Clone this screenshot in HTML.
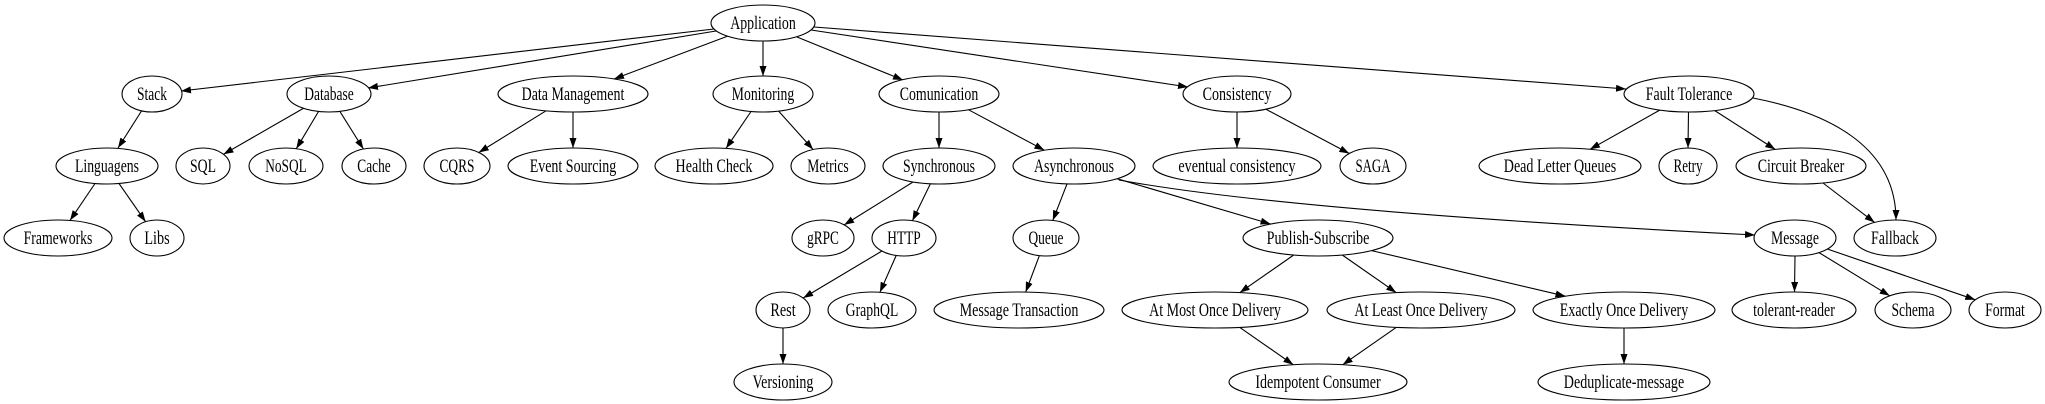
<!DOCTYPE html>
<html><head><meta charset="utf-8"><style>
html,body{margin:0;padding:0;background:#fff}
svg{display:block}
text{font-family:"Liberation Serif","Times New Roman",serif;font-size:18.5px;fill:#000;text-anchor:middle}
ellipse{fill:#fff;stroke:#000;stroke-width:1.1}
line,path.e{stroke:#000;stroke-width:1.1;fill:none}
</style></head><body>
<svg width="2045" height="404" viewBox="0 0 2045 404" xmlns="http://www.w3.org/2000/svg">
<defs><marker id="a" markerUnits="userSpaceOnUse" markerWidth="11" markerHeight="8" refX="10" refY="3.5" orient="auto"><path d="M0,0 L10,3.5 L0,7 z" fill="#000"/></marker></defs>
<g marker-end="url(#a)">
<line x1="714" y1="29" x2="181" y2="91"/>
<line x1="716" y1="31" x2="368" y2="88"/>
<line x1="728" y1="36" x2="614" y2="79"/>
<line x1="763" y1="41" x2="763" y2="76"/>
<line x1="797" y1="37" x2="903" y2="80"/>
<line x1="811" y1="30" x2="1188" y2="87"/>
<line x1="814" y1="27" x2="1626" y2="89"/>
<line x1="141.5" y1="111" x2="118" y2="148"/>
<line x1="95" y1="183.5" x2="70" y2="220.4"/>
<line x1="119" y1="183.5" x2="145.6" y2="221.7"/>
<line x1="304" y1="108" x2="223.5" y2="154.3"/>
<line x1="318.6" y1="111.4" x2="296.3" y2="148.7"/>
<line x1="339.9" y1="111.4" x2="363.4" y2="149"/>
<line x1="546" y1="110.8" x2="478.8" y2="152.5"/>
<line x1="573" y1="112" x2="573" y2="148"/>
<line x1="751" y1="111.5" x2="726" y2="148.4"/>
<line x1="778.5" y1="111" x2="813.1" y2="149.5"/>
<line x1="939" y1="112" x2="939" y2="148"/>
<line x1="968.4" y1="109.7" x2="1044.4" y2="150.2"/>
<line x1="1237" y1="112" x2="1237" y2="148"/>
<line x1="1265.8" y1="109.2" x2="1349.3" y2="153.5"/>
<line x1="1660" y1="110" x2="1590" y2="149.3"/>
<line x1="1688.5" y1="112" x2="1688" y2="148"/>
<line x1="1714.8" y1="110.6" x2="1775.2" y2="149.4"/>
<path class="e" d="M1753,98 C1835,114 1896,150 1896,220"/>
<line x1="1823" y1="183" x2="1874.6" y2="222.4"/>
<line x1="913" y1="182" x2="844.2" y2="224.9"/>
<line x1="930.4" y1="183.8" x2="912.4" y2="220.7"/>
<line x1="1067" y1="183.9" x2="1052.8" y2="220.4"/>
<line x1="1117" y1="178.7" x2="1270.6" y2="224"/>
<path class="e" d="M1119,180 C1250,204 1500,222 1755,235"/>
<line x1="882" y1="251" x2="803.2" y2="298"/>
<line x1="896.2" y1="255.5" x2="879.9" y2="292.3"/>
<line x1="1039.4" y1="255.6" x2="1025.7" y2="292"/>
<line x1="1293.7" y1="255" x2="1239.8" y2="292.6"/>
<line x1="1342.3" y1="255" x2="1396.2" y2="292.6"/>
<line x1="1371.6" y1="250.6" x2="1565.5" y2="296.2"/>
<line x1="1795" y1="256" x2="1794.5" y2="292"/>
<line x1="1819" y1="252.6" x2="1889.7" y2="295.8"/>
<line x1="1827.3" y1="249" x2="1975.3" y2="299.8"/>
<line x1="783" y1="328" x2="783" y2="364"/>
<line x1="1239.8" y1="327.4" x2="1293.3" y2="364.7"/>
<line x1="1396.2" y1="327.4" x2="1342.7" y2="364.7"/>
<line x1="1624" y1="328" x2="1624" y2="364"/>
</g>
<g>
<ellipse cx="763" cy="23" rx="52" ry="18"/><text x="763" y="29" textLength="65.6" lengthAdjust="spacingAndGlyphs">Application</text>
<ellipse cx="152" cy="94" rx="30" ry="18"/><text x="152" y="100" textLength="30" lengthAdjust="spacingAndGlyphs">Stack</text>
<ellipse cx="329" cy="94" rx="42" ry="18"/><text x="329" y="100" textLength="49.5" lengthAdjust="spacingAndGlyphs">Database</text>
<ellipse cx="573" cy="94" rx="75" ry="18"/><text x="573" y="100" textLength="102.7" lengthAdjust="spacingAndGlyphs">Data Management</text>
<ellipse cx="763" cy="94" rx="50" ry="18"/><text x="763" y="100" textLength="62.4" lengthAdjust="spacingAndGlyphs">Monitoring</text>
<ellipse cx="939" cy="94" rx="60" ry="18"/><text x="939" y="100" textLength="78.5" lengthAdjust="spacingAndGlyphs">Comunication</text>
<ellipse cx="1237" cy="94" rx="54" ry="18"/><text x="1237" y="100" textLength="68.8" lengthAdjust="spacingAndGlyphs">Consistency</text>
<ellipse cx="1689" cy="94" rx="65" ry="18"/><text x="1689" y="100" textLength="86.6" lengthAdjust="spacingAndGlyphs">Fault Tolerance</text>
<ellipse cx="107" cy="166" rx="51" ry="18"/><text x="107" y="172" textLength="64" lengthAdjust="spacingAndGlyphs">Linguagens</text>
<ellipse cx="203" cy="166" rx="27" ry="18"/><text x="203" y="172" textLength="26" lengthAdjust="spacingAndGlyphs">SQL</text>
<ellipse cx="286" cy="166" rx="37" ry="18"/><text x="286" y="172" textLength="41.4" lengthAdjust="spacingAndGlyphs">NoSQL</text>
<ellipse cx="374" cy="166" rx="32" ry="18"/><text x="374" y="172" textLength="33.4" lengthAdjust="spacingAndGlyphs">Cache</text>
<ellipse cx="457" cy="166" rx="33" ry="18"/><text x="457" y="172" textLength="35" lengthAdjust="spacingAndGlyphs">CQRS</text>
<ellipse cx="573" cy="166" rx="65" ry="18"/><text x="573" y="172" textLength="86.6" lengthAdjust="spacingAndGlyphs">Event Sourcing</text>
<ellipse cx="714" cy="166" rx="59" ry="18"/><text x="714" y="172" textLength="76.9" lengthAdjust="spacingAndGlyphs">Health Check</text>
<ellipse cx="828" cy="166" rx="37" ry="18"/><text x="828" y="172" textLength="41.4" lengthAdjust="spacingAndGlyphs">Metrics</text>
<ellipse cx="939" cy="166" rx="56" ry="18"/><text x="939" y="172" textLength="72" lengthAdjust="spacingAndGlyphs">Synchronous</text>
<ellipse cx="1074" cy="166" rx="61" ry="18"/><text x="1074" y="172" textLength="80.1" lengthAdjust="spacingAndGlyphs">Asynchronous</text>
<ellipse cx="1237" cy="166" rx="84" ry="18"/><text x="1237" y="172" textLength="117.2" lengthAdjust="spacingAndGlyphs">eventual consistency</text>
<ellipse cx="1373" cy="166" rx="33" ry="18"/><text x="1373" y="172" textLength="35" lengthAdjust="spacingAndGlyphs">SAGA</text>
<ellipse cx="1560" cy="166" rx="81" ry="18"/><text x="1560" y="172" textLength="112.4" lengthAdjust="spacingAndGlyphs">Dead Letter Queues</text>
<ellipse cx="1688" cy="166" rx="29" ry="18"/><text x="1688" y="172" textLength="29" lengthAdjust="spacingAndGlyphs">Retry</text>
<ellipse cx="1801" cy="166" rx="65" ry="18"/><text x="1801" y="172" textLength="86.6" lengthAdjust="spacingAndGlyphs">Circuit Breaker</text>
<ellipse cx="58" cy="238" rx="54" ry="18"/><text x="58" y="244" textLength="68.8" lengthAdjust="spacingAndGlyphs">Frameworks</text>
<ellipse cx="157" cy="238" rx="27" ry="18"/><text x="157" y="244" textLength="25.3" lengthAdjust="spacingAndGlyphs">Libs</text>
<ellipse cx="823" cy="238" rx="31" ry="18"/><text x="823" y="244" textLength="31.8" lengthAdjust="spacingAndGlyphs">gRPC</text>
<ellipse cx="904" cy="238" rx="32" ry="18"/><text x="904" y="244" textLength="33.4" lengthAdjust="spacingAndGlyphs">HTTP</text>
<ellipse cx="1046" cy="238" rx="33" ry="18"/><text x="1046" y="244" textLength="35" lengthAdjust="spacingAndGlyphs">Queue</text>
<ellipse cx="1318" cy="238" rx="75" ry="18"/><text x="1318" y="244" textLength="102.7" lengthAdjust="spacingAndGlyphs">Publish-Subscribe</text>
<ellipse cx="1795" cy="238" rx="41" ry="18"/><text x="1795" y="244" textLength="47.9" lengthAdjust="spacingAndGlyphs">Message</text>
<ellipse cx="1895" cy="238" rx="41" ry="18"/><text x="1895" y="244" textLength="47.9" lengthAdjust="spacingAndGlyphs">Fallback</text>
<ellipse cx="783" cy="310" rx="27" ry="18"/><text x="783" y="316" textLength="25.3" lengthAdjust="spacingAndGlyphs">Rest</text>
<ellipse cx="872" cy="310" rx="44" ry="18"/><text x="872" y="316" textLength="52.7" lengthAdjust="spacingAndGlyphs">GraphQL</text>
<ellipse cx="1019" cy="310" rx="85" ry="18"/><text x="1019" y="316" textLength="118.8" lengthAdjust="spacingAndGlyphs">Message Transaction</text>
<ellipse cx="1215" cy="310" rx="93" ry="18"/><text x="1215" y="316" textLength="131.7" lengthAdjust="spacingAndGlyphs">At Most Once Delivery</text>
<ellipse cx="1421" cy="310" rx="94" ry="18"/><text x="1421" y="316" textLength="133.3" lengthAdjust="spacingAndGlyphs">At Least Once Delivery</text>
<ellipse cx="1624" cy="310" rx="91" ry="18"/><text x="1624" y="316" textLength="128.5" lengthAdjust="spacingAndGlyphs">Exactly Once Delivery</text>
<ellipse cx="1794" cy="310" rx="62" ry="18"/><text x="1794" y="316" textLength="81.7" lengthAdjust="spacingAndGlyphs">tolerant-reader</text>
<ellipse cx="1913" cy="310" rx="38" ry="18"/><text x="1913" y="316" textLength="43" lengthAdjust="spacingAndGlyphs">Schema</text>
<ellipse cx="2005" cy="310" rx="36" ry="18"/><text x="2005" y="316" textLength="39.8" lengthAdjust="spacingAndGlyphs">Format</text>
<ellipse cx="783" cy="382" rx="49" ry="18"/><text x="783" y="388" textLength="60.8" lengthAdjust="spacingAndGlyphs">Versioning</text>
<ellipse cx="1318" cy="382" rx="89" ry="18"/><text x="1318" y="388" textLength="125.3" lengthAdjust="spacingAndGlyphs">Idempotent Consumer</text>
<ellipse cx="1624" cy="382" rx="86" ry="18"/><text x="1624" y="388" textLength="120.4" lengthAdjust="spacingAndGlyphs">Deduplicate-message</text>
</g>
</svg>
</body></html>
